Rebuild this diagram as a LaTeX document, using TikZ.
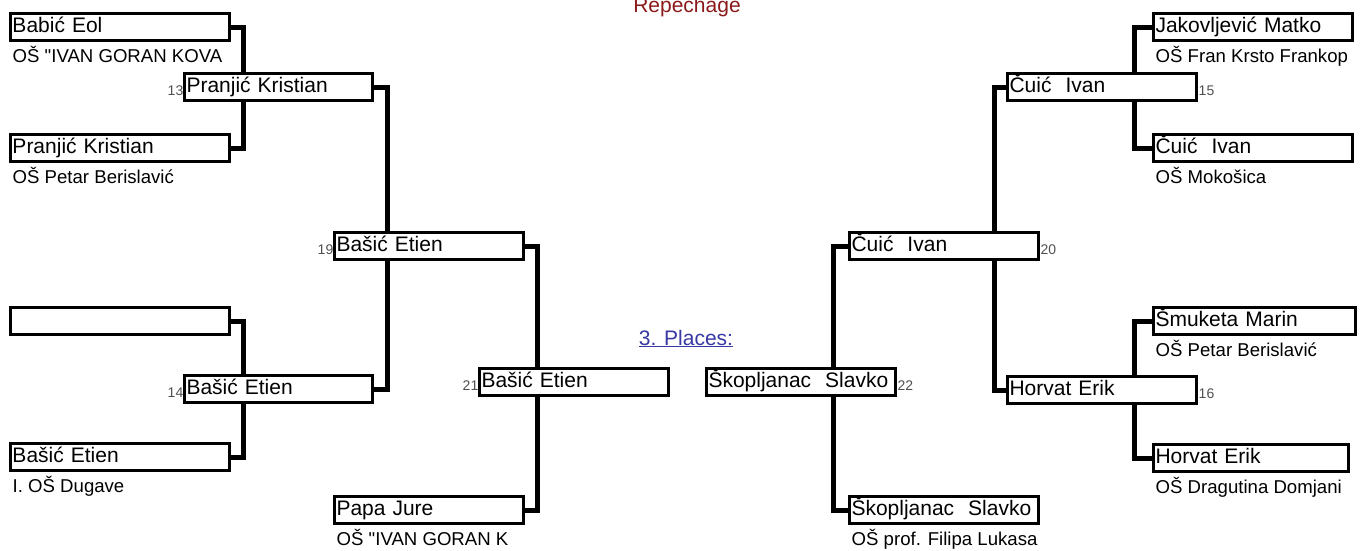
\documentclass[tikz,border=0pt]{standalone}
\usepackage{fontspec}
\setmainfont{Liberation Sans}
\newfontfamily\qfont{Liberation Sans}
\usetikzlibrary{backgrounds}
\definecolor{repred}{RGB}{139,26,26}
\definecolor{plblue}{RGB}{55,55,165}
\definecolor{numgray}{RGB}{80,80,80}
\newcommand\nmfont{\fontsize{21}{24}\selectfont}
\newcommand\scfont{\fontsize{18.6}{21}\selectfont}
\newcommand\numfont{\fontsize{14}{16}\selectfont}
\newcommand\dq{{\qfont"}}
\tikzset{
  pbox/.style={draw, line width=3pt, fill=white, anchor=north west,
    minimum height=27pt, text width=#1, inner xsep=2pt, inner ysep=0pt,
    align=left, outer sep=0pt, font=\nmfont, text height=15pt, text depth=4pt},
  school/.style={anchor=base west, inner sep=0pt, font=\scfont},
  numl/.style={anchor=base east, inner sep=0pt, font=\numfont, text=numgray},
  numr/.style={anchor=base west, inner sep=0pt, font=\numfont, text=numgray},
  conn/.style={line width=5pt, line join=miter, line cap=butt},
}
\begin{document}
\begin{tikzpicture}[x=1pt,y=-1pt]
\useasboundingbox (0,0) rectangle (1367,550);
% title texts
\node[anchor=base, inner sep=0pt, font=\fontsize{21}{24}\selectfont, text=repred] (title) at (687,12) {Repechage};
\node[anchor=base, inner sep=0pt, font=\fontsize{21}{24}\selectfont, text=plblue] (places) at (686,345) {\underline{3. Places:}};
% left side
\node[pbox=215pt] (r1a) at (10.5,13.5) {Babić Eol};
\node[pbox=215pt] (r1b) at (10.5,134.5) {Pranjić Kristian};
\node[pbox=215pt] (r1c) at (10.5,307.5) {};
\node[pbox=215pt] (r1d) at (10.5,443.5) {Bašić Etien};
\node[pbox=184pt] (b13) at (184.5,73.5) {Pranjić Kristian};
\node[pbox=184pt] (b14) at (184.5,375.5) {Bašić Etien};
\node[pbox=185pt] (b19) at (334.5,232.5) {Bašić Etien};
\node[pbox=185pt] (bpj) at (334.5,496.5) {Papa Jure};
\node[pbox=185pt] (b21) at (479.5,368.5) {Bašić Etien};
% right side
\node[pbox=185pt] (b22) at (706.5,368.5) {Škopljanac\ \ Slavko};
\node[pbox=185pt] (b20) at (849.5,232.5) {Čuić\ \ Ivan};
\node[pbox=185pt] (bsk) at (849.5,496.5) {Škopljanac\ \ Slavko};
\node[pbox=185pt] (b15) at (1007.5,73.5) {Čuić\ \ Ivan};
\node[pbox=185pt] (b16) at (1007.5,376.5) {Horvat Erik};
\node[pbox=195pt] (r1e) at (1153.5,13.5) {Jakovljević Matko};
\node[pbox=195pt] (r1f) at (1153.5,134.5) {Čuić\ \ Ivan};
\node[pbox=198pt] (r1g) at (1153.5,307.5) {Šmuketa Marin};
\node[pbox=191pt] (r1h) at (1153.5,444.5) {Horvat Erik};
% schools
\node[school] (sa) at ([xshift=2pt,yshift=-22pt]r1a.south west) {OŠ \dq IVAN GORAN KOVA};
\node[school] (sb) at ([xshift=2pt,yshift=-22pt]r1b.south west) {OŠ Petar Berislavić};
\node[school] (sd) at ([xshift=2pt,yshift=-22pt]r1d.south west) {I. OŠ Dugave};
\node[school] (spj) at ([xshift=2pt,yshift=-22pt]bpj.south west) {OŠ \dq IVAN GORAN K};
\node[school] (ssk) at ([xshift=2pt,yshift=-22pt]bsk.south west) {OŠ prof. Filipa Lukasa};
\node[school] (se) at ([xshift=2pt,yshift=-22pt]r1e.south west) {OŠ Fran Krsto Frankop};
\node[school] (sf) at ([xshift=2pt,yshift=-22pt]r1f.south west) {OŠ Mokošica};
\node[school] (sg) at ([xshift=2pt,yshift=-22pt]r1g.south west) {OŠ Petar Berislavić};
\node[school] (sh) at ([xshift=2pt,yshift=-22pt]r1h.south west) {OŠ Dragutina Domjani};
% match numbers
\node[numl] (n13) at ([xshift=-1pt,yshift=5pt]b13.south west) {13};
\node[numl] (n14) at ([xshift=-1pt,yshift=5pt]b14.south west) {14};
\node[numl] (n19) at ([xshift=-1pt,yshift=5pt]b19.south west) {19};
\node[numl] (n21) at ([xshift=-1pt,yshift=5pt]b21.south west) {21};
\node[numr] (n22) at ([xshift=2pt,yshift=5pt]b22.south east) {22};
\node[numr] (n20) at ([xshift=2pt,yshift=5pt]b20.south east) {20};
\node[numr] (n15) at ([xshift=2pt,yshift=5pt]b15.south east) {15};
\node[numr] (n16) at ([xshift=2pt,yshift=5pt]b16.south east) {16};
% connectors
\begin{scope}[on background layer]
\draw[conn] (r1a.east) -| ([xshift=59pt]b13.north west);
\draw[conn] (r1b.east) -| ([xshift=59pt]b13.south west);
\draw[conn] (r1c.east) -| ([xshift=59pt]b14.north west);
\draw[conn] (r1d.east) -| ([xshift=59pt]b14.south west);
\draw[conn] (b13.east) -| ([xshift=53pt]b19.north west);
\draw[conn] (b14.east) -| ([xshift=53pt]b19.south west);
\draw[conn] (b19.east) -| ([xshift=58pt]b21.north west);
\draw[conn] (bpj.east) -| ([xshift=58pt]b21.south west);
\draw[conn] (r1e.west) -| ([xshift=127pt]b15.north west);
\draw[conn] (r1f.west) -| ([xshift=127pt]b15.south west);
\draw[conn] (r1g.west) -| ([xshift=127pt]b16.north west);
\draw[conn] (r1h.west) -| ([xshift=127pt]b16.south west);
\draw[conn] (b15.west) -| ([xshift=145pt]b20.north west);
\draw[conn] (b16.west) -| ([xshift=145pt]b20.south west);
\draw[conn] (b20.west) -| ([xshift=127pt]b22.north west);
\draw[conn] (bsk.west) -| ([xshift=127pt]b22.south west);
\end{scope}
\end{tikzpicture}
\end{document}
